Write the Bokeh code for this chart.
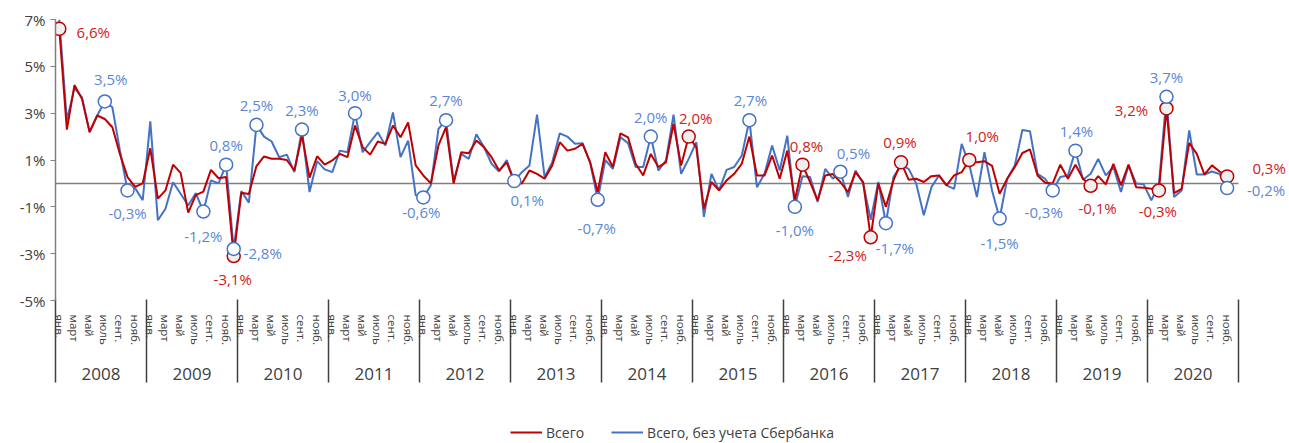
from bokeh.plotting import figure
from bokeh.layouts import column
from bokeh.models import (Range1d, FixedTicker, ColumnDataSource, LinearAxis,
                          LabelSet, Legend, LegendItem)
from bokeh.core.properties import value
from bokeh.embed import file_html
from bokeh.resources import INLINE

# ---------------- data ----------------
years = [str(y) for y in range(2008, 2021)]
months = ["янв.", "", "март", "", "май", "", "июль", "", "сент.", "", "нояб.", ""]

total = [
    6.6, 2.3, 4.2, 3.6, 2.2, 2.9, 2.75, 2.4, 1.25, 0.27, -0.15, 0.0,
    1.5, -0.65, -0.3, 0.8, 0.45, -1.25, -0.5, -0.35, 0.58, 0.22, 0.27, -3.1,
    -0.4, -0.45, 0.74, 1.15, 1.05, 1.05, 1.0, 0.55, 2.05, 0.25, 1.16, 0.8,
    0.98, 1.26, 1.12, 2.47, 1.55, 1.23, 1.79, 1.69, 2.47, 1.97, 2.6, 0.77,
    0.34, 0.0, 1.62, 2.4, 0.0, 1.33, 1.29, 1.83, 1.55, 1.12, 0.55, 0.9,
    0.06, 0.0, 0.55, 0.41, 0.2, 0.77, 1.76, 1.4, 1.48, 1.69, 0.9, -0.37,
    1.33, 0.7, 2.14, 1.97, 0.84, 0.34, 1.26, 0.7, 0.9, 2.54, 0.77, 2.0,
    1.55, -1.08, 0.06, -0.3, 0.13, 0.41, 0.84, 2.0, 0.34, 0.34, 1.19, 0.2,
    1.4, -0.72, 0.8, 0.06, -0.72, 0.34, 0.4, 0.06, -0.37, 0.48, 0.06, -2.3,
    0.0, -1.0, 0.13, 0.9, 0.16, 0.2, 0.06, 0.31, 0.34, -0.08, 0.34, 0.48,
    1.0, 0.9, 0.95, 0.75, -0.44, 0.2, 0.7, 1.3, 1.45, 0.34, 0.03, 0.0,
    0.8, 0.2, 0.8, 0.2, -0.1, 0.31, -0.04, 0.84, -0.08, 0.8, -0.16, -0.18,
    -0.23, -0.3, 3.2, -0.41, -0.23, 1.73, 1.26, 0.38, 0.77, 0.51, 0.3,
]

ex_sber = [
    7.0, 2.7, 4.07, 3.67, 2.18, 2.9, 3.5, 3.25, 1.4, -0.3, -0.2, -0.72,
    2.65, -1.57, -1.08, 0.05, -0.44, -0.94, -0.41, -1.2, 0.13, 0.0, 0.8, -2.8,
    -0.33, -0.82, 2.5, 2.0, 1.79, 1.12, 1.23, 0.48, 2.3, -0.37, 0.95, 0.6,
    0.48, 1.4, 1.33, 3.0, 1.33, 1.76, 2.18, 1.62, 3.03, 1.12, 1.83, -0.51,
    -0.6, -0.08, 2.33, 2.7, 0.1, 1.26, 1.05, 2.1, 1.55, 0.84, 0.51, 1.0,
    0.1, 0.48, 0.77, 2.94, 0.27, 0.9, 2.14, 2.0, 1.69, 1.72, 0.9, -0.7,
    1.0, 0.62, 1.97, 1.72, 0.7, 0.7, 2.0, 0.55, 0.98, 2.94, 0.41, 1.05,
    1.76, -1.43, 0.41, -0.3, 0.58, 0.7, 1.19, 2.7, -0.16, 0.41, 1.62, 0.55,
    2.04, -1.0, 0.31, 0.27, -0.79, 0.62, 0.2, 0.5, -0.58, 0.55, 0.0, -1.55,
    0.06, -1.7, 0.27, 0.77, 0.62, 0.0, -1.36, -0.16, 0.34, -0.08, -0.23, 1.69,
    0.8, -0.58, 1.33, -0.3, -1.5, 0.2, 0.77, 2.28, 2.23, 0.41, 0.2, -0.3,
    0.27, 0.34, 1.4, 0.16, 0.41, 1.05, 0.34, 0.7, -0.37, 0.77, 0.0, -0.04,
    -0.72, -0.08, 3.7, -0.58, -0.3, 2.26, 0.38, 0.38, 0.51, 0.4, -0.2,
]

y_ticks = [-5, -3, -1, 1, 3, 5, 7]
y_tick_labels = ["-5%", "-3%", "-1%", "1%", "3%", "5%", "7%"]

series_names = ["Всего", "Всего, без учета Сбербанка"]

red_ann_idx = [0, 23, 83, 98, 107, 111, 120, 136, 145, 146, 154]
red_ann_text = ["6,6%", "-3,1%", "2,0%", "0,8%", "-2,3%", "0,9%", "1,0%", "-0,1%", "-0,3%", "3,2%", "0,3%"]
blue_ann_idx = [6, 9, 19, 22, 23, 26, 32, 39, 48, 51, 60, 71, 78, 91, 97, 103, 109, 124, 131, 134, 146, 154]
blue_ann_text = ["3,5%", "-0,3%", "-1,2%", "0,8%", "-2,8%", "2,5%", "2,3%", "3,0%", "-0,6%", "2,7%", "0,1%",
                 "-0,7%", "2,0%", "2,7%", "-1,0%", "0,5%", "-1,7%", "-1,5%", "-0,3%", "1,4%", "3,7%", "-0,2%"]

# ---------------- style / label placement (screen px) ----------------
red_dx = [34, -1, 7, 4, -23, -1, 13, 7, -1, -35, 42]
red_dy = [-3, -23, 19, 19, -18, 20, 24, -22, -21, -2, 8]
blue_dx = [6, 0, 0, 0, 29, 0, 0, 0, -2, 0, 13, -1, 0, 1, 0, 13, 9, 0, -9, 1, 0, 39]
blue_dy = [22, -23, -24, 20, -4, 20, 20, 18, -15, 20, -19, -28, 20, 20, -23, 19, -25, -24, -22, 20, 20, -2]

RED = "#C00000"
BLUE = "#4472C4"
RED_TXT = "#D02020"
BLUE_TXT = "#5B87D6"
GREY_TXT = "#404040"
FONT = "Open Sans"

W, H_MAIN, H_LEG = 1289, 422, 20
FRAME_L, FRAME_T, FRAME_B = 55, 19, 300
DATA_W = 1183          # px spanned by the 156 months
SEP_LEN = 83           # length of the year separators below the frame

n_months = len(years) * len(months)
pos = [i + 0.5 for i in range(len(total))]          # month centre on the month scale
x_end = n_months * (W - FRAME_L) / DATA_W

p = figure(width=W, height=H_MAIN,
           x_range=Range1d(0, x_end), y_range=Range1d(-5, 7),
           output_backend="svg", toolbar_location=None,
           min_border_left=FRAME_L, min_border_right=0, min_border_top=FRAME_T,
           min_border_bottom=H_MAIN - FRAME_B)
p.outline_line_color = None
p.xgrid.visible = False
p.ygrid.visible = False

# zero line across the months
p.segment(x0=[0], x1=[n_months], y0=[0], y1=[0], line_color="#808080", line_width=1.5)

src_b = ColumnDataSource(dict(x=pos, y=ex_sber))
src_r = ColumnDataSource(dict(x=pos, y=total))
p.line("x", "y", source=src_b, line_color=BLUE, line_width=2)
p.line("x", "y", source=src_r, line_color=RED, line_width=2)

ann_r = ColumnDataSource(dict(x=[pos[i] for i in red_ann_idx], y=[total[i] for i in red_ann_idx],
                              t=red_ann_text, dx=red_dx, dy=red_dy))
ann_b = ColumnDataSource(dict(x=[pos[i] for i in blue_ann_idx], y=[ex_sber[i] for i in blue_ann_idx],
                              t=blue_ann_text, dx=blue_dx, dy=blue_dy))
p.scatter("x", "y", source=ann_r, marker="circle", size=13, fill_color="#EFEFEF",
          line_color=RED, line_width=1.5)
p.scatter("x", "y", source=ann_b, marker="circle", size=13, fill_color="white",
          line_color=BLUE, line_width=1.5)

for src, col in ((ann_r, RED_TXT), (ann_b, BLUE_TXT)):
    p.add_layout(LabelSet(x="x", y="y", text="t", source=src, x_offset="dx", y_offset="dy",
                          text_align="center", text_baseline="middle", text_color=col,
                          text_font=value(FONT), text_font_size="15px"))

# y axis
ya = p.yaxis[0]
ya.ticker = FixedTicker(ticks=y_ticks)
ya.major_label_overrides = {t: l for t, l in zip(y_ticks, y_tick_labels)}
ya.axis_line_color = "#808080"
ya.axis_line_width = 1.5
ya.major_tick_line_color = "#808080"
ya.major_tick_in = 0
ya.major_tick_out = 5
ya.minor_tick_line_color = None
ya.major_label_text_font = FONT
ya.major_label_text_font_size = "15px"
ya.major_label_text_color = GREY_TXT

# month axis (labels every other month)
month_ticks = [12 * yi + mi + 0.5 for yi in range(len(years)) for mi, m in enumerate(months) if m]
month_labels = [m for yi in range(len(years)) for m in months if m]
xa = p.xaxis[0]
xa.ticker = FixedTicker(ticks=month_ticks)
xa.major_label_overrides = {t: l for t, l in zip(month_ticks, month_labels)}
xa.axis_line_color = None
xa.major_tick_line_color = None
xa.major_tick_in = 0
xa.major_tick_out = 0
xa.minor_tick_line_color = None
xa.major_label_orientation = "vertical"
xa.major_label_standoff = 14
xa.major_label_text_font = FONT
xa.major_label_text_font_size = "11.5px"
xa.major_label_text_color = GREY_TXT

# year axis
year_centres = [12 * yi + 6 for yi in range(len(years))]
yx = LinearAxis(ticker=FixedTicker(ticks=year_centres),
                major_label_overrides={t: l for t, l in zip(year_centres, years)})
yx.axis_line_color = None
yx.major_tick_line_color = None
yx.major_tick_in = 0
yx.major_tick_out = 0
yx.minor_tick_line_color = None
yx.major_label_standoff = 20
yx.major_label_text_font = FONT
yx.major_label_text_font_size = "17px"
yx.major_label_text_color = GREY_TXT
p.add_layout(yx, "below")

# year separators: inward minor ticks of an unlabeled axis placed under the year labels
year_edges = [12 * yi for yi in range(len(years) + 1)]
sx = LinearAxis(ticker=FixedTicker(ticks=[], minor_ticks=year_edges))
sx.axis_line_color = None
sx.major_tick_line_color = None
sx.major_tick_in = 0
sx.major_tick_out = 0
sx.major_label_standoff = 0
sx.minor_tick_in = SEP_LEN
sx.minor_tick_out = 0
sx.minor_tick_line_color = GREY_TXT
sx.minor_tick_line_width = 1.5
p.add_layout(sx, "below")

# ---------------- legend in its own strip ----------------
pl = figure(width=W, height=H_LEG, output_backend="svg", toolbar_location=None,
            min_border=0, outline_line_color=None,
            x_range=Range1d(0, 1), y_range=Range1d(0, 1))
pl.axis.visible = False
pl.xgrid.visible = False
pl.ygrid.visible = False
nan = float("nan")
lr = pl.line(x=[nan], y=[nan], line_color=RED, line_width=2)
lb = pl.line(x=[nan], y=[nan], line_color=BLUE, line_width=2)
legend = Legend(items=[LegendItem(label=series_names[0], renderers=[lr]),
                       LegendItem(label=series_names[1], renderers=[lb])],
                orientation="horizontal", location="center",
                border_line_color=None, background_fill_alpha=0,
                label_text_font=FONT, label_text_font_size="14px", label_text_color=GREY_TXT,
                glyph_width=32, label_standoff=4, spacing=27, margin=0, padding=1)
pl.add_layout(legend, "center")

open("out.html", "w").write(file_html(column(p, pl), INLINE))
